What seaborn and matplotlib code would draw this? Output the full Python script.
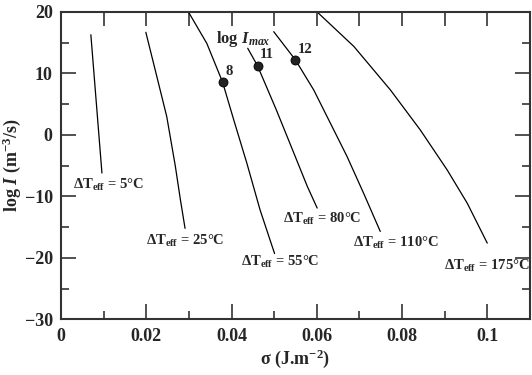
import numpy as np
import pandas as pd
import matplotlib
matplotlib.use("Agg")
import matplotlib.pyplot as plt
import seaborn as sns

# curves: sigma (J/m2) vs log I
sig_5 = [0.0070, 0.0096]
logi_5 = [16.3, -6.2]
sig_25 = [0.0199, 0.0223, 0.0248, 0.0268, 0.0280, 0.0291]
logi_25 = [16.7, 10.0, 3.0, -5.0, -10.5, -15.2]
sig_55 = [0.0299, 0.0342, 0.0379, 0.0405, 0.0436, 0.0467, 0.0501]
logi_55 = [20.0, 14.9, 8.6, 2.5, -4.6, -12.2, -19.3]
sig_80 = [0.0438, 0.0461, 0.0505, 0.0543, 0.0578, 0.0601]
logi_80 = [14.1, 11.25, 4.1, -2.4, -8.4, -11.9]
sig_110 = [0.0499, 0.0550, 0.0593, 0.0632, 0.0671, 0.0710, 0.0749]
logi_110 = [16.8, 12.2, 7.3, 1.9, -3.5, -9.5, -15.7]
sig_175 = [0.0601, 0.0687, 0.0773, 0.0843, 0.0906, 0.0953, 0.1000]
logi_175 = [20.0, 14.4, 7.3, 0.8, -5.7, -11.1, -17.6]

# maximum nucleation rate points
max_sig = [0.0379, 0.0461, 0.0550]
max_logi = [8.6, 11.25, 12.2]
max_text = ['8', '11', '12']

curve_names = ['5', '25', '55', '80', '110', '175']
label_x = [0.0028, 0.0200, 0.0423, 0.0521, 0.0685, 0.0898]
label_y = [-8.1, -17.3, -20.7, -13.6, -17.5, -21.3]

sns.set_style("ticks")
plt.rcParams['font.family'] = ['Liberation Serif', 'DejaVu Serif']
plt.rcParams['font.weight'] = 'bold'
plt.rcParams['mathtext.fontset'] = 'custom'
plt.rcParams['mathtext.rm'] = 'Liberation Serif:bold'
plt.rcParams['mathtext.it'] = 'Liberation Serif:italic:bold'
plt.rcParams['mathtext.bf'] = 'Liberation Serif:bold'

frames = []
for name, s, l in zip(curve_names,
                      [sig_5, sig_25, sig_55, sig_80, sig_110, sig_175],
                      [logi_5, logi_25, logi_55, logi_80, logi_110, logi_175]):
    frames.append(pd.DataFrame({'sigma': s, 'logI': l, 'dT': name}))
df = pd.concat(frames, ignore_index=True)

fig = plt.figure(figsize=(5.32, 3.75), dpi=100)
ax = fig.add_axes([0.1147, 0.1485, 0.8813, 0.8195])

sns.lineplot(data=df, x='sigma', y='logI', units='dT', estimator=None,
             sort=False, color='black', linewidth=0.9, ax=ax, legend=False)
sns.scatterplot(x=max_sig, y=max_logi, color='#222222', s=42,
                edgecolor='black', linewidth=0.6, zorder=5, ax=ax)

for sx, sy, t in zip(max_sig, max_logi, max_text):
    ax.text(sx + 0.0006, sy + 0.7, t, fontsize=10.5, fontweight='bold',
            ha='left', va='bottom')
ax.text(0.0364, 15.6, r'log $I$$_{max}$', fontsize=12, ha='left', va='center')

for name, lx, ly in zip(curve_names, label_x, label_y):
    ax.text(lx, ly, 'Δ' + r'T$_{\rm eff}$ = ' + name + '°C', fontsize=10.5,
            ha='left', va='center')

ax.set_xlim(0, 0.11)
ax.set_ylim(-30, 20)
ax.set_xticks([0, 0.02, 0.04, 0.06, 0.08, 0.1])
ax.set_xticklabels(['0', '0.02', '0.04', '0.06', '0.08', '0.1'])
ax.set_xticks(np.arange(0, 0.111, 0.01), minor=True)
ax.set_yticks([-30, -20, -10, 0, 10, 20])
ax.set_yticks(np.arange(-30, 21, 5), minor=True)
ax.tick_params(which='major', direction='in', length=11, width=1.2,
               right=True, top=False, labelsize=13, pad=6, color='#333333')
ax.tick_params(which='minor', direction='in', length=5.5, width=1.2,
               right=True, top=False, color='#333333')
for lab in ax.get_xticklabels() + ax.get_yticklabels():
    lab.set_fontweight('bold')

top = ax.secondary_xaxis('top')
top.set_xticks(np.arange(0.01, 0.11, 0.01))
top.tick_params(direction='in', length=10, width=1.2, labeltop=False,
                color='#333333')
top.spines['top'].set_visible(False)

for sp in ax.spines.values():
    sp.set_linewidth(1.5)
    sp.set_color('#333333')

ax.set_xlabel('σ (J.m$^{-2}$)', fontsize=13, fontweight='bold', labelpad=2)
ax.set_ylabel(r'log $I$ (m$^{-3}$/s)', fontsize=13, fontweight='bold',
              labelpad=1)

fig.savefig('out.png', dpi=100)
